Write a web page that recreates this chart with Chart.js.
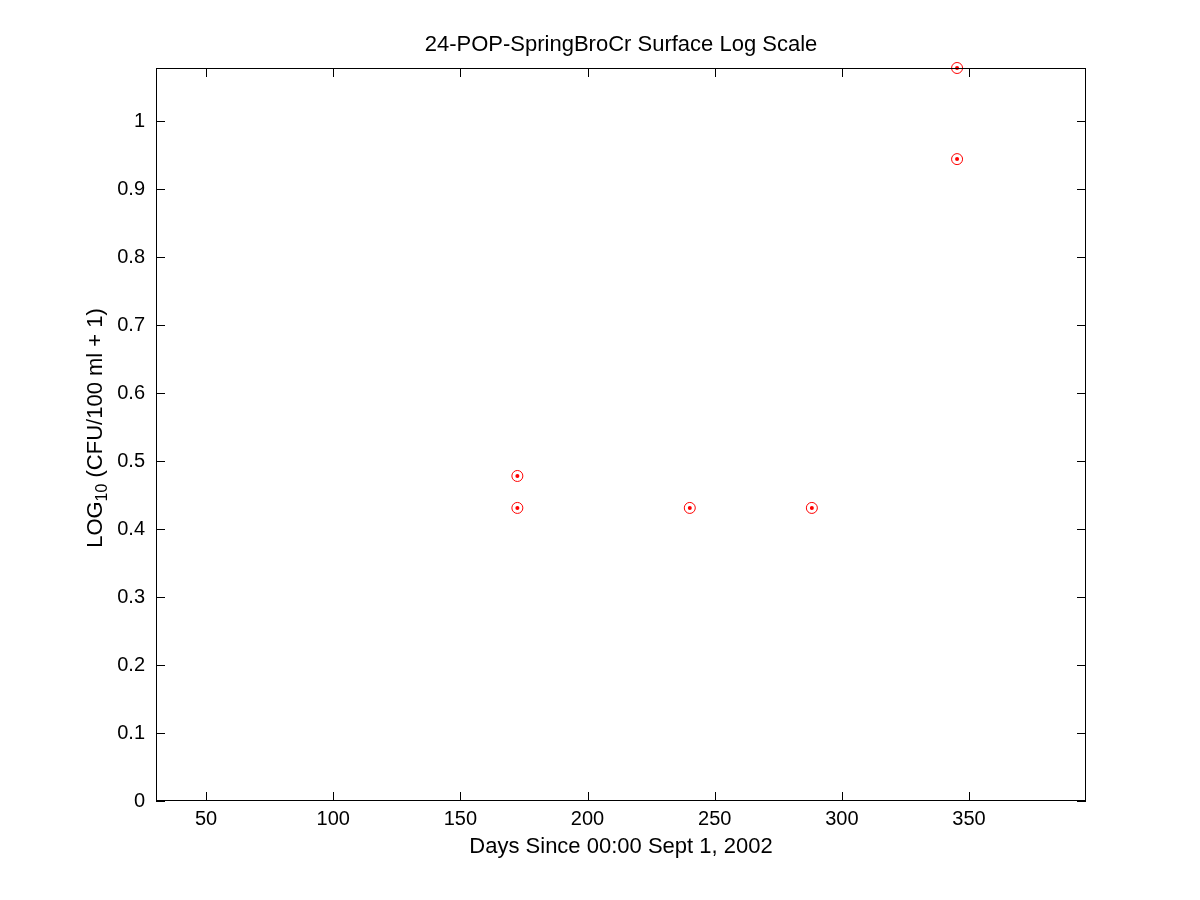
<!DOCTYPE html>
<html>
<head>
<meta charset="utf-8">
<script src="https://cdn.jsdelivr.net/npm/chart.js@4"></script>
<style>
  body { margin: 0; background: #fff; }
  canvas { display: block; }
</style>
</head>
<body>
<canvas id="chart" width="1200" height="900"></canvas>
<script>
// data
const days = [172.4, 172.4, 240.2, 288.2, 345.3, 345.3];
const logCfu = [0.478, 0.431, 0.431, 0.431, 0.944, 1.078];
const xTicks = [50, 100, 150, 200, 250, 300, 350];
const yTicks = [0, 0.1, 0.2, 0.3, 0.4, 0.5, 0.6, 0.7, 0.8, 0.9, 1];

const FONT = 'Liberation Sans, Arial, sans-serif';

const points = days.map((d, i) => ({ x: d, y: logCfu[i] }));

// box, inward ticks on every side, and the titles (matlab style)
const matlabFrame = {
  id: 'matlabFrame',
  afterDraw(chart) {
    const ctx = chart.ctx;
    const a = chart.chartArea;
    const xs = chart.scales.x, ys = chart.scales.y;
    const tl = 9;
    ctx.save();
    ctx.strokeStyle = '#000';
    ctx.lineWidth = 1;
    ctx.strokeRect(a.left + 0.5, a.top + 0.5, a.right - a.left - 1, a.bottom - a.top - 1);
    ctx.beginPath();
    xTicks.forEach(v => {
      const px = Math.round(xs.getPixelForValue(v)) + 0.5;
      ctx.moveTo(px, a.bottom); ctx.lineTo(px, a.bottom - tl);
      ctx.moveTo(px, a.top); ctx.lineTo(px, a.top + tl);
    });
    yTicks.forEach(v => {
      const py = Math.round(ys.getPixelForValue(v)) + 0.5;
      ctx.moveTo(a.left, py); ctx.lineTo(a.left + tl, py);
      ctx.moveTo(a.right, py); ctx.lineTo(a.right - tl, py);
    });
    ctx.stroke();

    ctx.fillStyle = '#000';
    ctx.font = '22px ' + FONT;
    ctx.textAlign = 'center';
    ctx.textBaseline = 'middle';
    const cx = (a.left + a.right) / 2;
    ctx.fillText('24-POP-SpringBroCr Surface Log Scale', cx, 45);
    ctx.fillText('Days Since 00:00 Sept 1, 2002', cx, 847);

    // y title with subscript
    const p1 = 'LOG', sub = '10', p2 = ' (CFU/100 ml + 1)';
    ctx.font = '22px ' + FONT;
    const w1 = ctx.measureText(p1).width, w3 = ctx.measureText(p2).width;
    ctx.font = '16px ' + FONT;
    const w2 = ctx.measureText(sub).width;
    const total = w1 + w2 + w3;
    ctx.translate(96, 428);
    ctx.rotate(-Math.PI / 2);
    ctx.textAlign = 'left';
    let x0 = -total / 2;
    ctx.font = '22px ' + FONT;
    ctx.fillText(p1, x0, 0);
    ctx.font = '16px ' + FONT;
    ctx.fillText(sub, x0 + w1, 7);
    ctx.font = '22px ' + FONT;
    ctx.fillText(p2, x0 + w1 + w2, 0);
    ctx.restore();
  }
};

new Chart(document.getElementById('chart'), {
  type: 'scatter',
  data: {
    datasets: [
      {
        label: 'circle',
        data: points,
        clip: false,
        pointStyle: 'circle',
        pointRadius: 5.5,
        pointBorderWidth: 1,
        pointBorderColor: '#ff0000',
        pointBackgroundColor: 'rgba(0,0,0,0)'
      },
      {
        label: 'dot',
        data: points,
        clip: false,
        pointStyle: 'circle',
        pointRadius: 2,
        pointBorderWidth: 0,
        pointBackgroundColor: '#ff0000'
      }
    ]
  },
  options: {
    responsive: false,
    devicePixelRatio: 1,
    animation: false,
    events: [],
    layout: { padding: { top: 68, right: 114, left: 0, bottom: 0 } },
    plugins: {
      legend: { display: false },
      title: { display: false },
      tooltip: { enabled: false }
    },
    scales: {
      x: {
        type: 'linear',
        min: 30.3,
        max: 396,
        afterBuildTicks: s => { s.ticks = xTicks.map(v => ({ value: v })); },
        afterFit: s => { s.height = 99; },
        grid: { display: false, drawTicks: false },
        border: { display: false },
        ticks: {
          padding: 6,
          maxRotation: 0,
          color: '#000',
          font: { family: FONT, size: 20 }
        }
      },
      y: {
        type: 'linear',
        min: 0,
        max: 1.078,
        afterBuildTicks: s => { s.ticks = yTicks.map(v => ({ value: v })); },
        afterFit: s => { s.width = 156; },
        grid: { display: false, drawTicks: false },
        border: { display: false },
        ticks: {
          padding: 11,
          color: '#000',
          font: { family: FONT, size: 20 },
          callback: v => String(Math.round(v * 10) / 10)
        }
      }
    }
  },
  plugins: [matlabFrame]
});
</script>
</body>
</html>
